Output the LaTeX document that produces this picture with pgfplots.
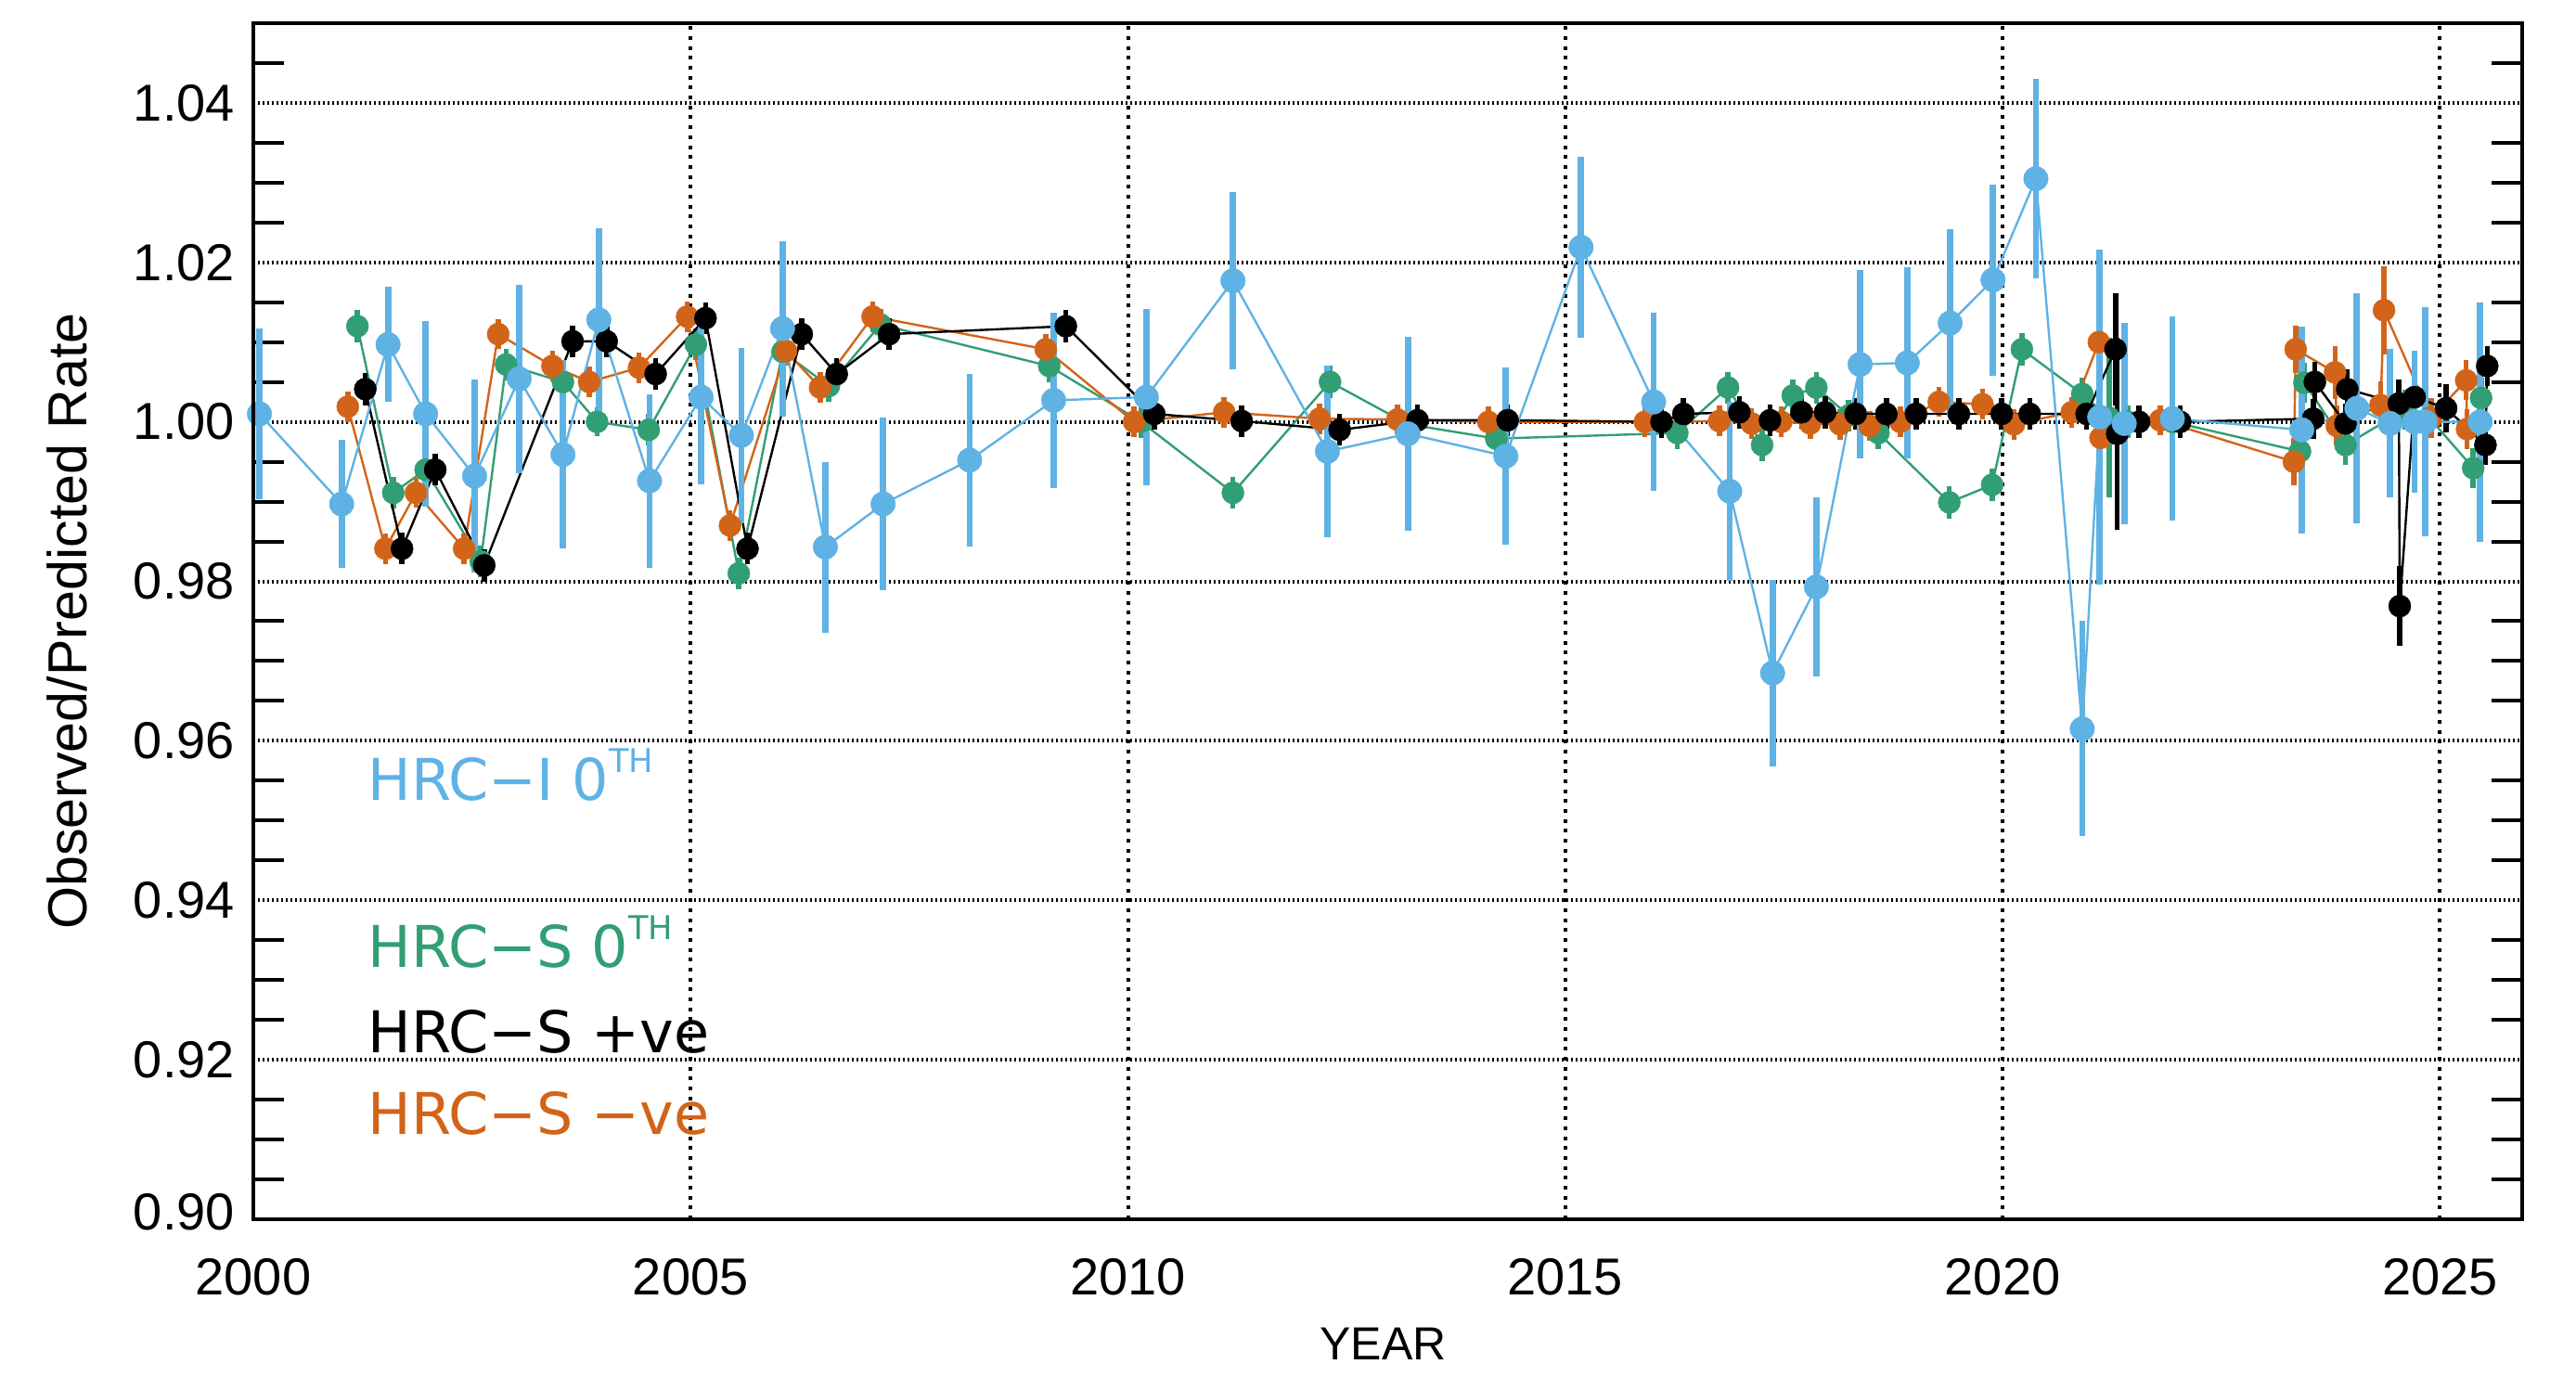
\documentclass[border=0pt]{standalone}
\usepackage{fontspec}
\setmainfont{Liberation Sans}
\newfontfamily\legfont{DejaVu Sans}
\usepackage{pgfplots}
\usepackage{pgfplotstable}
\pgfplotsset{compat=1.18}
\definecolor{cblue}{RGB}{95,178,228}
\definecolor{cgreen}{RGB}{50,158,115}
\definecolor{corange}{RGB}{210,100,25}

\pgfplotstableread{
x y e
2000.07 1.0010 0.0107
2001.01 0.9897 0.0080
2001.54 1.0097 0.0072
2001.97 1.0010 0.0116
2002.53 0.9932 0.0121
2003.04 1.0054 0.0118
2003.54 0.9959 0.0118
2003.95 1.0128 0.0115
2004.53 0.9926 0.0109
2005.12 1.0031 0.0109
2005.58 0.9983 0.0110
2006.05 1.0117 0.0110
2006.54 0.9843 0.0107
2007.20 0.9897 0.0108
2008.19 0.9952 0.0108
2009.15 1.0027 0.0110
2010.21 1.0031 0.0110
2011.20 1.0177 0.0111
2012.28 0.9963 0.0108
2013.20 0.9985 0.0122
2014.32 0.9957 0.0111
2015.18 1.0219 0.0113
2016.01 1.0025 0.0112
2016.88 0.9913 0.0112
2017.37 0.9685 0.0117
2017.87 0.9793 0.0112
2018.37 1.0072 0.0118
2018.91 1.0074 0.0120
2019.40 1.0124 0.0118
2019.89 1.0178 0.0120
2020.38 1.0305 0.0125
2020.91 0.9615 0.0135
2021.11 1.0006 0.0210
2021.39 0.9998 0.0126
2021.94 1.0004 0.0128
2023.42 0.9990 0.0130
2024.05 1.0017 0.0144
2024.43 0.9998 0.0093
2024.71 1.0000 0.0089
2024.83 1.0000 0.0144
2025.46 1.0000 0.0150
}\hrci

\pgfplotstableread{
x y e
2001.19 1.0120 0.0020
2001.60 0.9911 0.0020
2001.97 0.9940 0.0020
2002.60 0.9825 0.0020
2002.89 1.0072 0.0020
2003.54 1.0050 0.0020
2003.93 1.0000 0.0018
2004.52 0.9990 0.0020
2005.06 1.0097 0.0020
2005.55 0.9810 0.0020
2006.05 1.0088 0.0020
2006.58 1.0045 0.0020
2007.17 1.0122 0.0020
2009.10 1.0070 0.0020
2010.15 1.0000 0.0020
2011.20 0.9911 0.0020
2012.31 1.0050 0.0020
2013.20 0.9997 0.0020
2014.21 0.9979 0.0020
2016.28 0.9986 0.0020
2016.86 1.0043 0.0020
2017.25 0.9971 0.0020
2017.60 1.0033 0.0020
2017.87 1.0043 0.0020
2018.24 1.0008 0.0020
2018.58 0.9986 0.0020
2019.39 0.9899 0.0020
2019.88 0.9921 0.0020
2020.22 1.0091 0.0020
2020.91 1.0035 0.0020
2021.22 1.0005 0.0100
2021.43 1.0000 0.0020
2021.94 1.0000 0.0020
2023.40 0.9963 0.0025
2023.45 1.0049 0.0025
2023.92 0.9971 0.0025
2024.60 1.0015 0.0025
2024.88 1.0005 0.0025
2025.38 0.9942 0.0025
2025.47 1.0030 0.0025
}\hrcs

\pgfplotstableread{
x y e
2001.08 1.0019 0.0019
2001.51 0.9841 0.0019
2001.86 0.9911 0.0019
2002.41 0.9841 0.0019
2002.80 1.0110 0.0019
2003.42 1.0070 0.0019
2003.84 1.0050 0.0019
2004.41 1.0068 0.0019
2004.96 1.0132 0.0019
2005.45 0.9870 0.0019
2006.09 1.0089 0.0019
2006.48 1.0043 0.0019
2007.08 1.0132 0.0019
2009.06 1.0091 0.0019
2010.07 1.0000 0.0019
2011.10 1.0012 0.0019
2012.19 1.0004 0.0019
2013.08 1.0003 0.0019
2014.12 1.0000 0.0019
2015.91 1.0000 0.0019
2016.76 1.0001 0.0019
2017.13 0.9998 0.0019
2017.47 1.0000 0.0019
2017.80 0.9998 0.0019
2018.14 0.9997 0.0019
2018.48 0.9995 0.0019
2018.83 1.0000 0.0019
2019.27 1.0025 0.0019
2019.77 1.0022 0.0019
2020.13 0.9997 0.0019
2020.79 1.0012 0.0019
2021.10 1.0100 0.0019
2021.12 0.9980 0.0019
2021.80 1.0002 0.0019
2023.33 0.9950 0.0030
2023.35 1.0091 0.0030
2023.80 1.0062 0.0033
2023.82 0.9995 0.0025
2024.32 1.0021 0.0030
2024.36 1.0140 0.0055
2024.90 1.0005 0.0025
2025.30 1.0052 0.0025
2025.31 0.9991 0.0025
}\hrcsneg

\pgfplotstableread{
x y e
2001.28 1.0041 0.0020
2001.70 0.9841 0.0020
2002.08 0.9940 0.0020
2002.64 0.9820 0.0020
2003.65 1.0101 0.0020
2004.04 1.0101 0.0020
2004.60 1.0060 0.0020
2005.17 1.0130 0.0020
2005.65 0.9841 0.0020
2006.27 1.0110 0.0020
2006.67 1.0060 0.0020
2007.27 1.0110 0.0020
2009.29 1.0120 0.0020
2010.30 1.0010 0.0020
2011.30 1.0001 0.0020
2012.42 0.9990 0.0020
2013.31 1.0002 0.0020
2014.34 1.0002 0.0020
2016.10 1.0000 0.0020
2016.35 1.0010 0.0020
2016.99 1.0012 0.0020
2017.34 1.0002 0.0020
2017.70 1.0012 0.0020
2017.97 1.0012 0.0020
2018.32 1.0010 0.0020
2018.67 1.0010 0.0020
2019.01 1.0010 0.0020
2019.50 1.0010 0.0020
2019.99 1.0010 0.0020
2020.31 1.0010 0.0020
2020.96 1.0010 0.0020
2021.29 1.0091 0.0070
2021.31 0.9985 0.0120
2021.56 1.0000 0.0020
2022.03 1.0000 0.0020
2023.55 1.0004 0.0025
2023.57 1.0050 0.0025
2023.92 0.9998 0.0025
2023.94 1.0041 0.0025
2024.53 1.0023 0.0030
2024.54 0.9769 0.0050
2024.71 1.0031 0.0025
2025.07 1.0017 0.0030
2025.52 0.9971 0.0025
2025.54 1.0070 0.0025
}\hrcspos

\pgfplotsset{
  serie/.style={color=#1, line width=0.6pt, mark=*,
    mark options={solid, fill=#1, draw=#1, line width=0.1pt},
    error bars/y dir=both, error bars/y explicit,
    error bars/error mark=none,
    error bars/error bar style={line width=1.4pt, color=#1, solid}},
}

\begin{document}
\begin{tikzpicture}
\useasboundingbox (-68.25pt,-42.5pt) rectangle (625.75pt,328.5pt);
\begin{axis}[
  at={(0pt,0pt)}, anchor=south west, scale only axis,
  width=611.25pt, height=322.25pt,
  xmin=2000, xmax=2025.94, ymin=0.90, ymax=1.05,
  xtick={2000,2005,2010,2015,2020,2025},
  xticklabels={2000,2005,2010,2015,2020,2025},
  ytick={0.90,0.92,0.94,0.96,0.98,1.00,1.02,1.04},
  yticklabels={\raisebox{4.25pt}{0.90},0.92,0.94,0.96,0.98,1.00,1.02,1.04},
  minor ytick={0.905,0.91,0.915,0.925,0.93,0.935,0.945,0.95,0.955,0.965,0.97,0.975,0.985,0.99,0.995,1.005,1.01,1.015,1.025,1.03,1.035,1.045},
  major tick length=0pt, minor tick length=8.25pt,
  xmajorgrids, ymajorgrids,
  major x grid style={black, line width=1pt, dash pattern=on 1pt off 1.67pt},
  major y grid style={black, line width=1pt, dash pattern=on 0.55pt off 0.7pt},
  axis line style={line width=1.2pt},
  minor tick style={line width=1pt, black},
  tick label style={font=\fontsize{14}{16}\selectfont},
  xticklabel shift=7pt, yticklabel shift=1.5pt,
  xlabel={YEAR}, ylabel={Observed/Predicted Rate},
  xlabel style={font=\fontsize{12.5}{14}\selectfont, at={(axis description cs:0.498,-0.104)}, anchor=center},
  ylabel style={font=\fontsize{14.8}{17}\selectfont, at={(axis description cs:-0.0822,0.5)}, anchor=center},
]
\addplot[serie=cgreen, mark size=3.0pt] table[x=x,y=y,y error=e]{\hrcs};
\addplot[serie=corange, mark size=3.0pt] table[x=x,y=y,y error=e]{\hrcsneg};
\addplot[serie=black, mark size=3.0pt] table[x=x,y=y,y error=e]{\hrcspos};
\addplot[serie=cblue, mark size=3.3pt, error bars/error bar style={line width=1.7pt, color=cblue}] table[x=x,y=y,y error=e]{\hrci};

\node[anchor=base west, inner sep=0pt, text=cblue, font=\legfont\fontsize{15.5}{18}\selectfont] at (axis cs:2001.306,0.95256) {HRC−I 0\raisebox{7.5pt}{\fontsize{8.8}{10}\selectfont TH}};
\node[anchor=base west, inner sep=0pt, text=cgreen, font=\legfont\fontsize{15.5}{18}\selectfont] at (axis cs:2001.306,0.93163) {HRC−S 0\raisebox{7.5pt}{\fontsize{8.8}{10}\selectfont TH}};
\node[anchor=base west, inner sep=0pt, text=black, font=\legfont\fontsize{15.5}{18}\selectfont] at (axis cs:2001.306,0.92093) {HRC−S +ve};
\node[anchor=base west, inner sep=0pt, text=corange, font=\legfont\fontsize{15.5}{18}\selectfont] at (axis cs:2001.306,0.91070) {HRC−S −ve};
\end{axis}
\begin{axis}[
  at={(0pt,0pt)}, anchor=south west, scale only axis,
  width=611.25pt, height=322.25pt,
  xmin=2000, xmax=2025.94, ymin=0.90, ymax=1.05,
  xtick=\empty, ytick=\empty,
  minor xtick={2001,2002,2003,2004,2006,2007,2008,2009,2011,2012,2013,2014,2016,2017,2018,2019,2021,2022,2023,2024},
  minor tick length=5pt,
  axis line style={line width=1.2pt},
  minor tick style={line width=1pt, black},
]
\end{axis}
\end{tikzpicture}
\end{document}
